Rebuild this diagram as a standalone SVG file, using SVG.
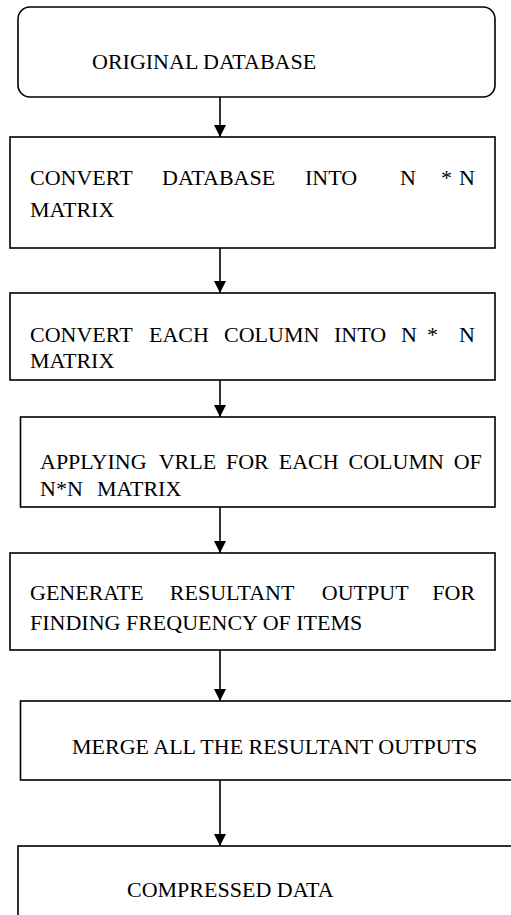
<svg xmlns="http://www.w3.org/2000/svg" width="511" height="915" viewBox="0 0 511 915">
<defs>
<marker id="ah" markerUnits="userSpaceOnUse" markerWidth="12" markerHeight="14" refX="12" refY="6" orient="auto" viewBox="0 0 12 12">
<path d="M0,0 L12,6 L0,12 Z" fill="#000"/>
</marker>
<style>
.box{fill:#fff;stroke:#000;stroke-width:1.6}
.t{font-family:"Liberation Serif","Times New Roman",serif;font-size:22px;fill:#000}
.c{stroke:#000;stroke-width:1.6;fill:none}
</style>
</defs>
<rect width="511" height="915" fill="#fff"/>
<g id="connectors">
<line class="c" x1="220" y1="97" x2="220" y2="137" marker-end="url(#ah)"/>
<line class="c" x1="220" y1="248" x2="220" y2="293" marker-end="url(#ah)"/>
<line class="c" x1="220" y1="372" x2="220" y2="417" marker-end="url(#ah)"/>
<line class="c" x1="220" y1="507" x2="220" y2="553" marker-end="url(#ah)"/>
<line class="c" x1="220" y1="650" x2="220" y2="701" marker-end="url(#ah)"/>
<line class="c" x1="220" y1="780" x2="220" y2="846" marker-end="url(#ah)"/>
</g>
<g id="n1">
<rect class="box" x="18" y="7" width="477" height="90" rx="12"/>
<text class="t" x="92" y="69">ORIGINAL DATABASE</text>
</g>
<g id="n2">
<rect class="box" x="10" y="137" width="485" height="111"/>
<text class="t" y="185"><tspan x="30">CONVERT</tspan><tspan x="162">DATABASE</tspan><tspan x="305">INTO</tspan><tspan x="400">N</tspan><tspan x="441">*</tspan><tspan x="459">N</tspan></text>
<text class="t" x="30" y="217">MATRIX</text>
</g>
<g id="n3">
<rect class="box" x="10" y="293" width="485" height="87"/>
<text class="t" y="342"><tspan x="30">CONVERT</tspan><tspan x="149">EACH</tspan><tspan x="224">COLUMN</tspan><tspan x="334">INTO</tspan><tspan x="401">N</tspan><tspan x="427">*</tspan><tspan x="459">N</tspan></text>
<text class="t" x="30" y="368">MATRIX</text>
</g>
<g id="n4">
<rect class="box" x="20.5" y="417" width="474.5" height="90"/>
<text class="t" y="469"><tspan x="40">APPLYING</tspan><tspan x="158.7">VRLE</tspan><tspan x="226">FOR</tspan><tspan x="278.7">EACH</tspan><tspan x="348.5">COLUMN</tspan><tspan x="453.7">OF</tspan></text>
<text class="t" y="496"><tspan x="40">N*N</tspan><tspan x="97">MATRIX</tspan></text>
</g>
<g id="n5">
<rect class="box" x="10" y="553" width="485" height="97"/>
<text class="t" y="600"><tspan x="30">GENERATE</tspan><tspan x="169.8">RESULTANT</tspan><tspan x="321.8">OUTPUT</tspan><tspan x="432.3">FOR</tspan></text>
<text class="t" x="30" y="630">FINDING FREQUENCY OF ITEMS</text>
</g>
<g id="n6">
<rect class="box" x="20.5" y="701" width="500" height="79"/>
<text class="t" x="72" y="754">MERGE ALL THE RESULTANT OUTPUTS</text>
</g>
<g id="n7">
<rect class="box" x="18" y="846" width="500" height="100"/>
<text class="t" x="127" y="897">COMPRESSED DATA</text>
</g>
</svg>
